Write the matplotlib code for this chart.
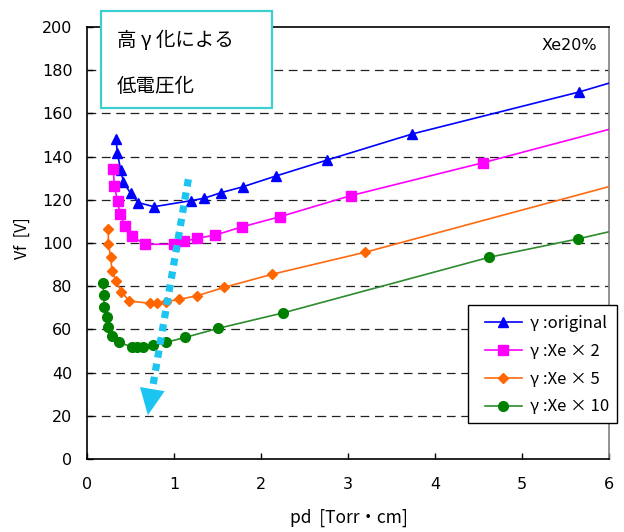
import matplotlib
matplotlib.use("Agg")
import matplotlib.pyplot as plt
import matplotlib.patches as mpatches
import numpy as np

plt.rcParams['font.family'] = ['DejaVu Sans', 'Noto Sans CJK JP']
JP = ['Noto Sans CJK JP', 'DejaVu Sans']

# ---- data ----
# marker points for each series, and the value the curve reaches at pd = 6
orig_x = [0.333, 0.35, 0.387, 0.418, 0.50, 0.59, 0.77, 1.195, 1.345, 1.54, 1.79, 2.17, 2.76, 3.74, 5.655]
orig_y = [148.0, 141.5, 133.8, 128.4, 123.0, 118.7, 116.8, 119.6, 120.7, 123.3, 126.0, 131.0, 138.4, 150.5, 169.9]
orig_end = 174.0

xe2_x = [0.303, 0.314, 0.352, 0.379, 0.437, 0.513, 0.667, 1.00, 1.12, 1.27, 1.475, 1.785, 2.22, 3.03, 4.555]
xe2_y = [134.1, 126.4, 119.4, 113.3, 107.9, 103.2, 99.4, 99.4, 100.8, 102.2, 103.7, 107.5, 112.2, 121.9, 137.2]
xe2_end = 152.6

xe5_x = [0.245, 0.245, 0.272, 0.287, 0.333, 0.395, 0.486, 0.724, 0.80, 0.908, 1.057, 1.268, 1.58, 2.126, 3.195]
xe5_y = [106.3, 99.5, 93.7, 87.2, 82.3, 77.5, 73.1, 72.1, 72.1, 72.8, 73.9, 75.6, 79.5, 85.5, 95.7]
xe5_end = 126.1

xe10_x = [0.18, 0.195, 0.195, 0.226, 0.241, 0.287, 0.364, 0.513, 0.578, 0.647, 0.755, 0.908, 1.13, 1.51, 2.25, 4.624, 5.643]
xe10_y = [81.3, 75.8, 70.5, 65.9, 61.0, 57.0, 54.0, 52.0, 52.0, 52.0, 52.6, 54.0, 56.3, 60.5, 67.6, 93.4, 101.9]
xe10_end = 105.2

x_end = 6.0
labels = ['γ :original', 'γ :Xe × 2', 'γ :Xe × 5', 'γ :Xe × 10']
x_ticks = [0, 1, 2, 3, 4, 5, 6]
y_ticks = [0, 20, 40, 60, 80, 100, 120, 140, 160, 180, 200]

# annotation arrow (data coords)
arrow_start = (1.165, 129.5)
arrow_base = (0.745, 31.0)
arrow_tip = (0.70, 20.3)

# ---- figure ----
fig = plt.figure(figsize=(6.24, 5.32), dpi=100)
ax = fig.add_axes([87/624, 1-459/532, (609-87)/624, (459-27)/532])

series = [
    (orig_x, orig_y, orig_end, '#0000FF', '#0000FF', '^', 7.5),
    (xe2_x, xe2_y, xe2_end, '#FF00FF', '#FF00FF', 's', 6.5),
    (xe5_x, xe5_y, xe5_end, '#FF6A10', '#FF6600', 'D', 5.0),
    (xe10_x, xe10_y, xe10_end, '#2E8B2E', '#008000', 'o', 7.0),
]
handles = []
for (xs, ys, ye, lc, mc, mk, ms), lab in zip(series, labels):
    lx = list(xs) + [x_end]
    ly = list(ys) + [ye]
    ax.plot(lx, ly, color=lc, lw=1.2, zorder=3)
    ax.plot(xs, ys, ls='none', marker=mk, ms=ms, color=mc, mec=mc, zorder=4)
    h, = ax.plot([], [], color=lc, lw=1.2, marker=mk, ms=ms, mfc=mc, mec=mc)
    handles.append(h)

# dotted arrow
ax.plot([arrow_start[0], arrow_base[0]], [arrow_start[1], arrow_base[1]],
        color='#1CC4F2', lw=5.2, linestyle=(0, (1.0, 0.85)), solid_capstyle='butt',
        dash_capstyle='butt', zorder=5)
ax.annotate('', xy=arrow_tip, xytext=arrow_base,
            arrowprops=dict(arrowstyle='-|>,head_length=0.95,head_width=0.45',
                            color='#1CC4F2', lw=0, mutation_scale=20,
                            shrinkA=0, shrinkB=0), zorder=5)

ax.set_xlim(0, 6)
ax.set_ylim(0, 200)
ax.set_xticks(x_ticks)
ax.set_yticks(y_ticks)
ax.tick_params(axis='both', direction='in', labelsize=11.5, length=4.5, width=1, color='black')
ax.tick_params(axis='x', pad=13)
ax.tick_params(axis='y', pad=10.5)
for g in y_ticks[1:-1]:
    ax.axhline(g, color='#222222', lw=0.9, linestyle=(0, (7, 4.5)), zorder=1)

for s in ['left', 'bottom', 'top']:
    ax.spines[s].set_color('black')
    ax.spines[s].set_linewidth(1.2)
ax.spines['right'].set_color('#808080')
ax.spines['right'].set_linewidth(1.2)

fig.text(22/624, 1-238/532, 'Vf  [V]', rotation=90, ha='center', va='center', family=JP, fontsize=11.5)
fig.text(349/624, 1-518/532, 'pd  [Torr・cm]', ha='center', va='center', family=JP, fontsize=12.5)

fig.text(597/624, 1-46/532, 'Xe20%', ha='right', va='center', fontsize=11.5)

# text box
rect = mpatches.Rectangle((101/624, 1-108/532), 171/624, 97/532, transform=fig.transFigure,
                          fill=True, facecolor='white', edgecolor='#3CCFCF', lw=1.6, zorder=10)
fig.patches.append(rect)
fig.text(117/624, 1-40/532, '高 γ 化による', ha='left', va='center', family=JP, fontsize=14, zorder=11)
fig.text(117/624, 1-87/532, '低電圧化', ha='left', va='center', family=JP, fontsize=14, zorder=11)

# legend frame drawn separately, entries placed inside it
lrect = mpatches.Rectangle((468/624, 1-423/532), 149/624, 118/532, transform=fig.transFigure,
                           fill=True, facecolor='white', edgecolor='black', lw=1.0, zorder=10)
fig.patches.append(lrect)
leg = fig.legend(handles, labels, loc='upper left', bbox_to_anchor=(485/624, 1-315/532),
                 bbox_transform=fig.transFigure, borderaxespad=0, frameon=False,
                 prop={'family': JP, 'size': 12}, handlelength=2.2,
                 handletextpad=0.5, labelspacing=0.65, borderpad=0)
leg.set_zorder(11)

fig.savefig('out.png', dpi=100)
